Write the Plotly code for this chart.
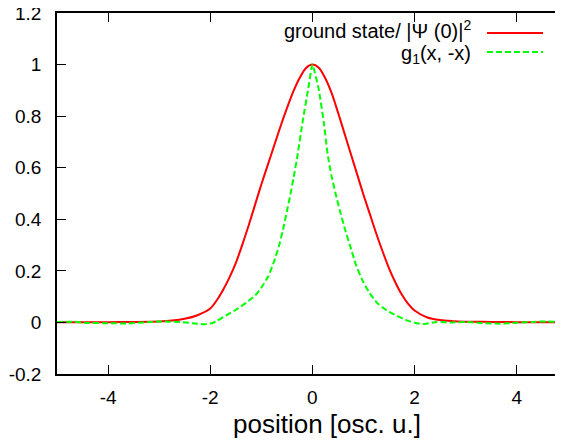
import plotly.graph_objects as go

# ground state / |Psi(0)|^2
red_x = [-5, -4.5, -4, -3.5, -3, -2.75, -2.5, -2.25, -2, -1.875, -1.75, -1.625, -1.5,
         -1.375, -1.25, -1.125, -1, -0.875, -0.75, -0.625, -0.5, -0.375, -0.25, -0.125, 0,
         0.125, 0.25, 0.375, 0.5, 0.625, 0.75, 0.875, 1, 1.125, 1.25, 1.375, 1.5, 1.625,
         1.75, 1.875, 2, 2.25, 2.5, 2.75, 3, 3.5, 4, 4.5, 5]
red_y = [0.001, 0.001, 0.001, 0.002, 0.004, 0.007, 0.014, 0.028, 0.054, 0.085, 0.126, 0.174, 0.23,
         0.30, 0.375, 0.455, 0.535, 0.61, 0.685, 0.76, 0.83, 0.895, 0.948, 0.987, 1.0,
         0.988, 0.948, 0.89, 0.815, 0.735, 0.655, 0.575, 0.495, 0.42, 0.345, 0.275, 0.21, 0.155,
         0.108, 0.072, 0.046, 0.019, 0.009, 0.005, 0.003, 0.002, 0.001, 0.001, 0.001]

# g1(x, -x)
green_x = [-5, -4.7, -4.4, -4.0, -3.6, -3.3, -3.0, -2.8, -2.59, -2.35, -2.13, -1.95, -1.87, -1.7,
           -1.48, -1.3, -1.12, -1.0, -0.86, -0.75, -0.66, -0.58, -0.5, -0.43, -0.37, -0.29,
           -0.19, -0.08, 0, 0.12, 0.22, 0.30, 0.37, 0.45, 0.54, 0.64, 0.74, 0.85, 0.97, 1.1,
           1.26, 1.45, 1.65, 1.85, 2.04, 2.2, 2.43, 2.7, 3.0, 3.3, 3.67, 4.0, 4.3, 4.59, 5.0]
green_y = [0.002, 0.003, -0.002, -0.003, -0.004, 0.0, 0.004, 0.003, 0.002, -0.003, -0.007, -0.002, 0.006, 0.026,
           0.051, 0.076, 0.105, 0.135, 0.18, 0.237, 0.293, 0.355, 0.43, 0.497, 0.56, 0.65,
           0.78, 0.908, 1.0, 0.908, 0.78, 0.65, 0.572, 0.503, 0.432, 0.36, 0.296, 0.225, 0.167, 0.12,
           0.077, 0.047, 0.026, 0.008, -0.003, -0.006, 0.002, 0.0, 0.002, -0.002, -0.005, -0.001, 0.002, 0.004, 0.001]

x_ticks = [-4, -2, 0, 2, 4]
x_tick_text = ["-4", "-2", "0", "2", "4"]
y_ticks = [-0.2, 0, 0.2, 0.4, 0.6, 0.8, 1, 1.2]
y_tick_text = ["-0.2", "0", "0.2", "0.4", "0.6", "0.8", "1", "1.2"]

legend_labels = ["ground state/ |\u03a8 (0)|<sup>2</sup>", "g<sub>1</sub>(x, -x)"]
x_title = "position [osc. u.]"
red_col = "#ff0000"
green_col = "#00ff00"
FONT = "Liberation Sans, Arial, sans-serif"
TICK_FS = 19
LEG_FS = 20

# the page places the figure 8px from the top-left corner (default body margin)
OFF = 8
WIN_W, WIN_H = 563, 442
W, H = WIN_W - OFF, WIN_H - OFF
# plot area in window pixels: x 57..563, y 13..374
L, T = 57 - OFF, 13 - OFF
B = H - (374 - OFF)
R = 0
pw = W - L - R
ph = H - T - B

def px_x(p):  # window pixel -> paper x
    return (p - OFF - L) / pw

def px_y(p):  # window pixel -> paper y
    return (H - B - (p - OFF)) / ph

fig = go.Figure()
fig.add_trace(go.Scatter(x=red_x, y=red_y, mode="lines", name=legend_labels[0],
                         line=dict(color=red_col, width=2, shape="spline", smoothing=0.8)))
fig.add_trace(go.Scatter(x=green_x, y=green_y, mode="lines", name=legend_labels[1],
                         line=dict(color=green_col, width=2, dash="6px,3px",
                                   shape="spline", smoothing=0.4)))

fig.update_layout(
    width=W, height=H,
    margin=dict(l=L, r=R, t=T, b=B, pad=0, autoexpand=False),
    paper_bgcolor="white", plot_bgcolor="white",
    showlegend=False,
    font=dict(family=FONT, size=TICK_FS, color="black"),
)
fig.update_xaxes(range=[-5, 4.906], tickvals=x_ticks, ticktext=x_tick_text, ticks="inside",
                 ticklen=9, tickwidth=1, tickcolor="black", showline=True, linecolor="black",
                 linewidth=1.5, mirror="ticks", showgrid=False, zeroline=False,
                 ticklabelstandoff=5, automargin=False, ticklabeloverflow="allow",
                 tickfont=dict(size=TICK_FS, family=FONT))
fig.update_yaxes(range=[-0.2, 1.2], tickvals=y_ticks, ticktext=y_tick_text, ticks="inside", ticklen=9,
                 tickwidth=1, tickcolor="black", showline=True, linecolor="black", linewidth=1.5,
                 mirror=False, showgrid=False, zeroline=False, ticklabelstandoff=10,
                 automargin=False, ticklabeloverflow="allow",
                 tickfont=dict(size=TICK_FS, family=FONT))

# x-axis title
fig.add_annotation(x=px_x(327), y=px_y(424), xref="paper", yref="paper", text=x_title,
                   showarrow=False, xanchor="center", yanchor="middle",
                   font=dict(size=26, family=FONT, color="black"))

# legend (text on left, sample line on right, gnuplot style)
leg_rows = [(33, 29, red_col, "solid"), (52, 54, green_col, "dash")]
for (ypx, ytxt, col, dash), lab in zip(leg_rows, legend_labels):
    fig.add_annotation(x=px_x(473), y=px_y(ytxt), xref="paper", yref="paper", text=lab,
                       showarrow=False, xanchor="right", yanchor="middle",
                       font=dict(size=LEG_FS, family=FONT, color="black"))
    fig.add_shape(type="line", xref="paper", yref="paper", x0=px_x(487), x1=px_x(543),
                  y0=px_y(ypx), y1=px_y(ypx), line=dict(color=col, width=2,
                                                        dash="6px,3px" if dash == "dash" else "solid"))

fig.write_html("out.html")
